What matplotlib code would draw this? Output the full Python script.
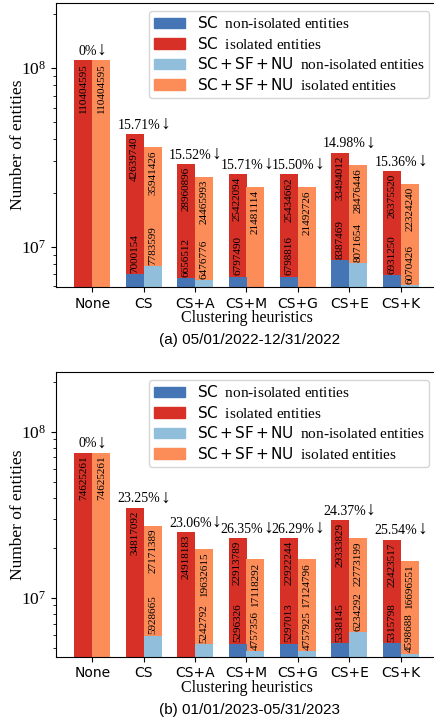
import numpy as np
import matplotlib.pyplot as plt
from matplotlib.patches import Patch
from matplotlib.offsetbox import TextArea, HPacker, AnnotationBbox

plt.rcParams['font.family'] = ['Liberation Serif', 'DejaVu Serif']
plt.rcParams['mathtext.fontset'] = 'custom'
plt.rcParams['mathtext.rm'] = 'Liberation Serif'
plt.rcParams['mathtext.it'] = 'Liberation Serif:italic'
plt.rcParams['mathtext.bf'] = 'Liberation Serif:bold'
plt.rcParams['mathtext.sf'] = 'DejaVu Sans'

# ---- datos ----
categories = ["None", "CS", "CS+A", "CS+M", "CS+G", "CS+E", "CS+K"]

# (a) 05/01/2022-12/31/2022
a_sc_non = [0, 7000154, 6656512, 6797490, 6798816, 8387469, 6931250]
a_sc_iso = [110404595, 42639740, 28960896, 25422094, 25434662, 33494012, 26375520]
a_sf_non = [0, 7783599, 6476776, 5849525, 5850615, 8071654, 6070426]
a_sf_iso = [110404595, 35941426, 24465993, 21481114, 21492726, 28476446, 22324240]
a_pct = ["0%", "15.71%", "15.52%", "15.71%", "15.50%", "14.98%", "15.36%"]

# (b) 01/01/2023-05/31/2023
b_sc_non = [0, 4373997, 4365271, 5296326, 5297013, 5338145, 5315798]
b_sc_iso = [74625261, 34817092, 24918183, 22913789, 22922244, 29333829, 22423517]
b_sf_non = [0, 5928665, 5242792, 4757356, 4757925, 6234292, 4598688]
b_sf_iso = [74625261, 27171389, 19632615, 17118292, 17124796, 22773199, 16696551]
b_pct = ["0%", "23.25%", "23.06%", "26.35%", "26.29%", "24.37%", "25.54%"]

BLUE = "#4575b4"
RED = "#d73027"
LBLUE = "#91bfdb"
ORANGE = "#fc8d59"

W, H = 434, 721


def panel(rect, sc_non, sc_iso, sf_non, sf_iso, pct, ylim, caption):
    ax = fig.add_axes(rect)
    ax.set_yscale('log')
    x = np.arange(len(categories))
    w = 0.35

    ax.bar(x - w / 2, sc_iso, w, color=RED)
    ax.bar(x + w / 2, sf_iso, w, color=ORANGE)
    for i in range(len(x)):
        if sc_non[i] > 0:
            ax.bar(x[i] - w / 2, sc_non[i], w, color=BLUE)
        if sf_non[i] > 0:
            ax.bar(x[i] + w / 2, sf_non[i], w, color=LBLUE)

    # etiquetas de valores
    for i in range(len(x)):
        for xx, iso, non in ((x[i] - w / 2, sc_iso[i], sc_non[i]),
                             (x[i] + w / 2, sf_iso[i], sf_non[i])):
            ax.annotate(str(iso), (xx, iso), xytext=(0, -2),
                        textcoords='offset points', rotation=90,
                        ha='center', va='top', fontsize=8)
            if non > 0:
                ax.annotate(str(non), (xx, non), xytext=(0, 1),
                            textcoords='offset points', rotation=90,
                            ha='center', va='bottom', fontsize=8)
        # porcentaje + flecha (flecha algo mas grande)
        caja = HPacker(children=[
            TextArea(pct[i], textprops=dict(fontsize=10)),
            TextArea("\u2193", textprops=dict(fontsize=14))],
            align='baseline', pad=0, sep=0)
        ab = AnnotationBbox(caja, (x[i], max(sc_iso[i], sf_iso[i])),
                            xybox=(0, 1), boxcoords='offset points',
                            box_alignment=(0.5, 0), frameon=False, pad=0)
        ax.add_artist(ab)

    ax.set_xlim(-0.706, 6.706)
    ax.set_ylim(*ylim)
    ax.set_xticks(x)
    ax.set_xticklabels(categories, fontfamily='DejaVu Sans', fontsize=10)
    ax.tick_params(axis='y', labelsize=12.5)
    ax.set_ylabel("Number of entities", fontsize=12.5)
    ax.yaxis.set_label_coords((26 - 56) / 381, 0.5)
    ax.set_xlabel("Clustering heuristics", fontsize=11.5)
    ax.xaxis.set_label_coords(0.5, -23 / 284)

    handles = [Patch(color=BLUE), Patch(color=RED),
               Patch(color=LBLUE), Patch(color=ORANGE)]
    labels = [r"$\mathsf{SC}$  non-isolated entities",
              r"$\mathsf{SC}$  isolated entities",
              r"$\mathsf{SC+SF+NU}$  non-isolated entities",
              r"$\mathsf{SC+SF+NU}$  isolated entities"]
    ax.legend(handles, labels, loc='upper right', fontsize=11,
              labelspacing=0.3, handlelength=2.0, borderpad=0.3,
              handletextpad=0.8)

    top = rect[1]
    fig.text(250 / W, top - 53 / H, caption, ha='center', va='center',
             fontsize=11, family='Liberation Sans')
    return ax


fig = plt.figure(figsize=(W / 100, H / 100), dpi=100)

panel([56 / W, 1 - 287 / H, 381 / W, 284 / H],
      a_sc_non, a_sc_iso, a_sf_non, a_sf_iso, a_pct,
      (5.95e6, 2.31e8), "(a) 05/01/2022-12/31/2022")
panel([56 / W, 1 - 656.7 / H, 381 / W, 284.7 / H],
      b_sc_non, b_sc_iso, b_sf_non, b_sf_iso, b_pct,
      (4.42e6, 2.29e8), "(b) 01/01/2023-05/31/2023")

fig.savefig("out.png", dpi=100)
